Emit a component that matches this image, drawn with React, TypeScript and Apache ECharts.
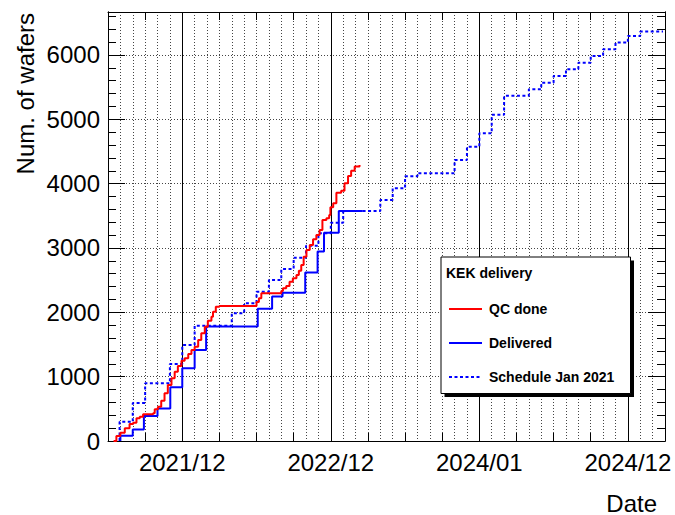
import React, { useEffect, useRef } from 'react';
import * as echarts from 'echarts';

// ---------- data ----------
const QC_DATES = [
  '2021-07-15', '2021-07-22', '2021-08-01', '2021-08-12', '2021-08-24', '2021-09-02', '2021-09-10',
  '2021-09-18', '2021-09-26', '2021-10-21', '2021-10-25', '2021-11-02', '2021-11-10', '2021-11-18',
  '2021-11-26', '2021-12-05', '2021-12-13', '2021-12-21', '2021-12-30', '2022-01-07', '2022-01-16',
  '2022-01-24', '2022-02-01', '2022-02-09', '2022-02-16', '2022-02-24', '2022-03-03', '2022-03-12',
  '2022-03-16', '2022-03-23', '2022-04-01', '2022-07-01', '2022-07-07', '2022-07-13', '2022-09-01',
  '2022-09-05', '2022-09-13', '2022-09-21', '2022-09-29', '2022-10-08', '2022-10-14', '2022-10-20',
  '2022-10-26', '2022-11-02', '2022-11-10', '2022-11-18', '2022-11-26', '2022-12-04', '2022-12-11',
  '2022-12-21', '2022-12-28', '2022-12-31', '2023-01-07', '2023-01-15', '2023-01-27', '2023-02-04',
  '2023-02-12', '2023-02-19', '2023-02-27', '2023-03-11',
];
const QC_VALUES = [
  0, 78, 130, 197, 264, 285, 352,
  378, 415, 430, 492, 534, 627, 741,
  871, 974, 1078, 1166, 1249, 1285, 1352,
  1415, 1466, 1570, 1674, 1777, 1871, 1933,
  2010, 2088, 2099, 2160, 2218, 2296, 2330,
  2373, 2410, 2477, 2529, 2581, 2648, 2736,
  2865, 2969, 3047, 3135, 3202, 3280, 3435,
  3461, 3513, 3632, 3695, 3860, 3891, 4005,
  4119, 4202, 4265, 4290,
];

const DELIVERED_DATES = [
  '2021-08-01', '2021-08-01', '2021-09-01', '2021-09-28', '2021-11-01', '2021-12-02', '2022-01-01',
  '2022-02-01', '2022-02-27', '2022-07-04', '2022-08-09', '2022-09-04', '2022-10-30', '2022-11-29',
  '2022-12-15', '2023-01-21', '2023-03-19',
];
const DELIVERED_VALUES = [
  0, 80, 180, 390, 505, 835, 1130,
  1415, 1780, 2055, 2245, 2305, 2620, 2945,
  3235, 3575, 3575,
];

const SCHEDULE_DATES = [
  '2021-07-30', '2021-07-30', '2021-09-01', '2021-10-01', '2021-12-01', '2022-01-01', '2022-02-01',
  '2022-05-01', '2022-06-01', '2022-07-01', '2022-08-01', '2022-09-01', '2022-10-01', '2022-11-01',
  '2022-12-01', '2023-01-01', '2023-02-01', '2023-05-01', '2023-06-01', '2023-07-01', '2023-08-01',
  '2023-11-01', '2023-12-01', '2024-01-01', '2024-02-01', '2024-03-01', '2024-05-01', '2024-06-01',
  '2024-07-01', '2024-08-01', '2024-09-01', '2024-10-01', '2024-11-01', '2024-12-01', '2025-01-01',
  '2025-02-01', '2025-03-27',
];
const SCHEDULE_VALUES = [
  0, 300, 590, 897, 1195, 1492, 1792,
  1985, 2140, 2321, 2503, 2674, 2850, 3036,
  3229, 3394, 3575, 3746, 3928, 4115, 4161,
  4368, 4575, 4783, 5070, 5365, 5467, 5570,
  5674, 5778, 5881, 5985, 6089, 6192, 6296,
  6363, 6363,
];

const X_TICK_DATES = ['2022-01-01', '2023-01-01', '2024-01-01', '2025-01-01'];
const X_TICK_LABELS = ['2021/12', '2022/12', '2024/01', '2024/12'];
const X_RANGE_DATES = ['2021-07-01', '2025-04-01'];
const Y_RANGE = [0, 6668];

const LEGEND_TITLE = 'KEK delivery';
const X_TITLE = 'Date';
const Y_TITLE = 'Num. of wafers';

// month index since Jan 2021 (fractional)
function toM(s: string): number {
  const [y, mo, d] = s.split('-').map(Number);
  const dim = new Date(Date.UTC(y, mo, 0)).getUTCDate();
  return (y - 2021) * 12 + (mo - 1) + (d - 1) / dim;
}

const FONT = "'Liberation Sans', Arial, Helvetica, sans-serif";

export default function App() {
  const ref = useRef<HTMLDivElement>(null);

  useEffect(() => {
    const chart = echarts.init(ref.current as HTMLDivElement, null, { renderer: 'svg' });
    const xMin = toM(X_RANGE_DATES[0]);
    const xMax = toM(X_RANGE_DATES[1]);
    const tickMs = X_TICK_DATES.map(toM);
    const xLabel = (v: number) => {
      const i = tickMs.findIndex((m) => Math.abs(m - v) < 1e-6);
      return i >= 0 ? X_TICK_LABELS[i] : '';
    };
    const pairs = (ds: string[], vs: number[]) => ds.map((d, i) => [toM(d), vs[i]]);
    const dotted = { color: '#444', width: 1, type: [1, 2] as number[] };

    const xBase = {
      type: 'value' as const,
      min: xMin,
      max: xMax,
      interval: 3,
      axisLine: { show: true, onZero: false, lineStyle: { color: '#000', width: 1 } },
      axisTick: { show: true, inside: true, length: 8, lineStyle: { color: '#000', width: 1 } },
    };
    const yBase = (interval: number, position: 'left' | 'right', len: number) => ({
      type: 'value' as const,
      min: Y_RANGE[0],
      max: Y_RANGE[1],
      interval,
      position,
      axisLine: { show: true, onZero: false, lineStyle: { color: '#000', width: 1 } },
      axisTick: { show: true, inside: true, length: len, lineStyle: { color: '#000', width: 1 } },
      axisLabel: { show: false },
      splitLine: { show: false },
    });

    const option: any = {
      animation: false,
      backgroundColor: '#fff',
      textStyle: { fontFamily: FONT },
      grid: { left: 108, top: 12, width: 557, height: 429, containLabel: false },
      xAxis: [
        {
          ...xBase,
          position: 'bottom',
          axisLabel: {
            show: true,
            margin: 9,
            fontSize: 24,
            color: '#000',
            fontFamily: FONT,
            formatter: xLabel,
            hideOverlap: false,
          },
          splitLine: { show: true, lineStyle: dotted },
          minorTick: { show: false, splitNumber: 3 },
          minorSplitLine: { show: true, lineStyle: dotted },
        },
        {
          ...xBase,
          position: 'top',
          axisLabel: { show: false },
          splitLine: { show: false },
        },
      ],
      yAxis: [
        {
          ...yBase(1000, 'left', 17),
          axisLabel: {
            show: true,
            margin: 8,
            fontSize: 24,
            color: '#000',
            fontFamily: FONT,
            formatter: (v: number) => String(v),
            showMaxLabel: false,
          },
          splitLine: { show: true, lineStyle: dotted },
        },
        yBase(200, 'left', 8),
        yBase(1000, 'right', 17),
        yBase(200, 'right', 8),
      ],
      legend: {
        show: true,
        orient: 'vertical',
        left: 448,
        top: 302,
        padding: 0,
        itemWidth: 33,
        itemHeight: 14,
        itemGap: 20,
        z: 10,
        itemStyle: { opacity: 0 },
        data: ['QC done', 'Delivered', 'Schedule Jan 2021'],
        textStyle: { fontFamily: FONT, fontSize: 14, fontWeight: 'bold', color: '#000', padding: [0, 0, 0, 2] },
      },
      series: [
        {
          name: 'years',
          type: 'line',
          data: [],
          silent: true,
          z: 1,
          markLine: {
            silent: true,
            symbol: 'none',
            z: 1,
            animation: false,
            label: { show: false },
            lineStyle: { color: '#000', width: 1, type: 'solid' },
            data: tickMs.map((m) => ({ xAxis: m })),
          },
        },
        {
          name: 'Schedule Jan 2021',
          type: 'line',
          step: 'end',
          symbol: 'none',
          z: 2,
          data: pairs(SCHEDULE_DATES, SCHEDULE_VALUES),
          itemStyle: { color: '#0000ff' },
          lineStyle: { color: '#0000ff', width: 2, type: [3, 2.5] },
        },
        {
          name: 'Delivered',
          type: 'line',
          step: 'end',
          symbol: 'none',
          z: 3,
          data: pairs(DELIVERED_DATES, DELIVERED_VALUES),
          itemStyle: { color: '#0000ff' },
          lineStyle: { color: '#0000ff', width: 2 },
        },
        {
          name: 'QC done',
          type: 'line',
          step: 'end',
          symbol: 'none',
          z: 4,
          data: pairs(QC_DATES, QC_VALUES),
          itemStyle: { color: '#ff0000' },
          lineStyle: { color: '#ff0000', width: 2 },
        },
      ],
      graphic: [
        {
          type: 'rect',
          z: 5,
          shape: { x: 444.5, y: 260.5, width: 189.5, height: 136.5 },
          style: { fill: '#000' },
        },
        {
          type: 'rect',
          z: 6,
          shape: { x: 441, y: 257, width: 189.5, height: 136.5 },
          style: { fill: '#fff', stroke: '#000', lineWidth: 1 },
        },
        {
          type: 'text',
          z: 7,
          x: 446,
          y: 273,
          style: {
            text: LEGEND_TITLE,
            fontFamily: FONT,
            fontSize: 14,
            fontWeight: 'bold',
            fill: '#000',
            verticalAlign: 'middle',
            textVerticalAlign: 'middle',
          },
        },
        {
          type: 'text',
          x: 25,
          y: 13,
          rotation: Math.PI / 2,
          style: {
            text: Y_TITLE,
            fontFamily: FONT,
            fontSize: 24,
            fill: '#000',
            align: 'right',
            textAlign: 'right',
            verticalAlign: 'middle',
            textVerticalAlign: 'middle',
          },
        },
        {
          type: 'text',
          x: 657,
          y: 503,
          style: {
            text: X_TITLE,
            fontFamily: FONT,
            fontSize: 24,
            fill: '#000',
            align: 'right',
            textAlign: 'right',
            verticalAlign: 'middle',
            textVerticalAlign: 'middle',
          },
        },
      ],
    };

    chart.setOption(option);
    return () => chart.dispose();
  }, []);

  return (
    <div
      ref={ref}
      style={{ position: 'fixed', left: 0, top: 0, width: 675, height: 515, background: '#fff' }}
    />
  );
}
